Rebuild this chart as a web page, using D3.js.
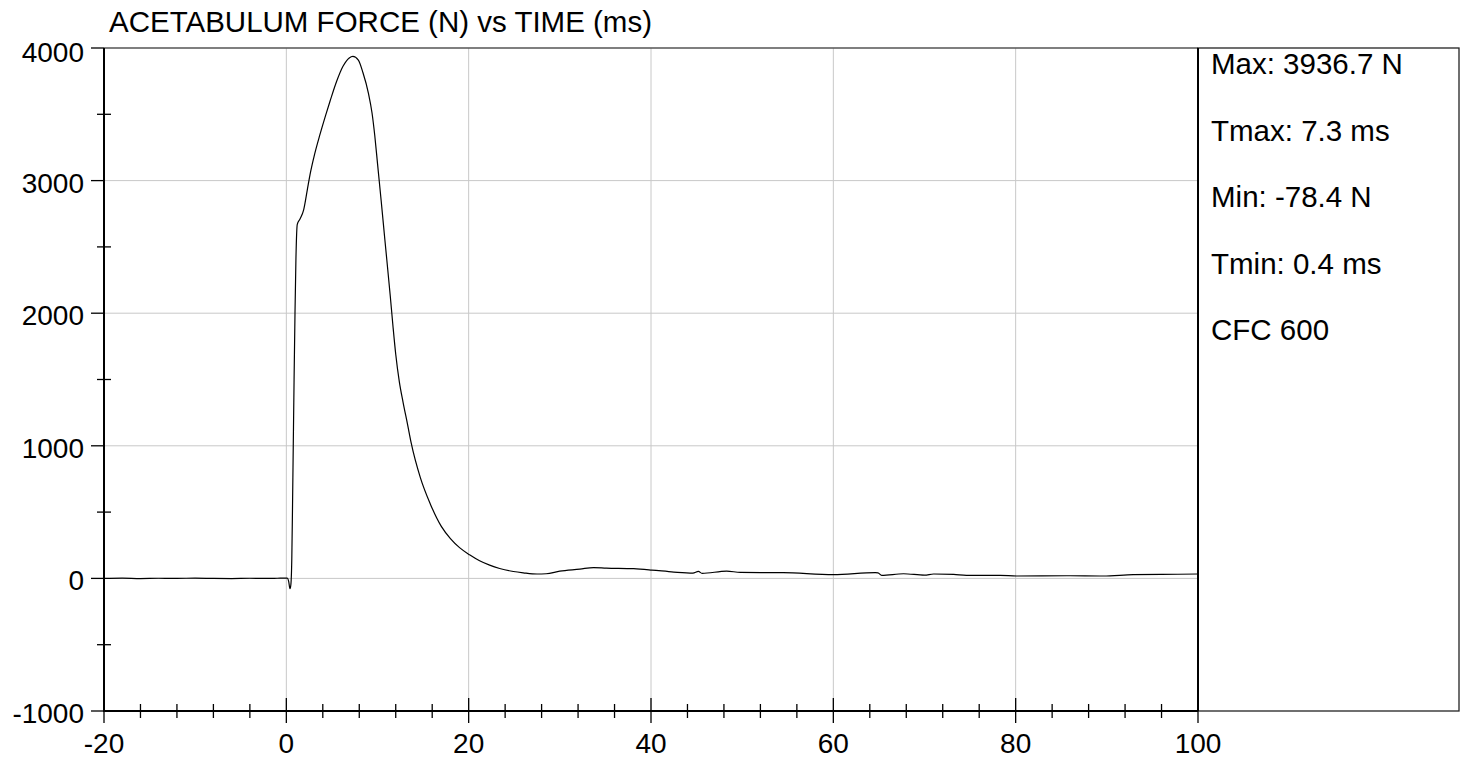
<!DOCTYPE html>
<html>
<head>
<meta charset="utf-8">
<script src="https://cdn.jsdelivr.net/npm/d3@7"></script>
<style>
  html, body { margin: 0; padding: 0; background: #fff; }
  svg { display: block; }
  text { font-family: "Liberation Sans", Arial, sans-serif; fill: #000; }
</style>
</head>
<body>
<svg id="chart" width="1465" height="761"></svg>
<script>
const title = "ACETABULUM FORCE (N) vs TIME (ms)";
const timeMs = [-20,-18,-16,-14,-12,-10,-8,-6,-4,-2,-1,0,0.1,0.25,0.4,0.5,0.6,0.68,0.76,0.85,0.95,1.05,1.2,1.5,1.9,2.3,2.6,3.0,3.7,4.3,4.8,5.5,6.2,6.9,7.3,7.9,8.4,9.0,9.4,9.7,10.0,10.4,10.8,11.4,11.7,12.0,12.4,12.8,13.3,13.7,14.7,15.8,17.0,18.0,19.0,20.1,21.2,22.3,23.4,24.9,26.0,27.5,28.5,30,32.2,33.7,35.1,38.1,40.1,42.5,44.6,45.2,45.6,48.3,49.8,54.5,60,64.6,64.9,65.3,67.7,70.0,71.0,73.2,74.6,78.3,80.1,85.6,89.6,92.9,96,100];
const forceN = [0,2,-1,1,0,2,0,-1,1,0,1,2,2,-20,-78,-45,150,550,1000,1500,2000,2400,2670,2710,2780,2930,3045,3170,3350,3490,3600,3745,3860,3925,3937,3909,3815,3660,3510,3340,3130,2850,2560,2130,1900,1690,1480,1330,1160,1020,760,560,392,300,232,178,133,100,75,52,42,33,35,55,70,82,78,73,63,48,40,53,38,55,45,43,28,43,42,23,35,25,33,30,23,23,18,20,18,28,30,33];
const xTicks = [-20,0,20,40,60,80,100];
const yTicks = [-1000,0,1000,2000,3000,4000];
const stats = ["Max: 3936.7 N","Tmax: 7.3 ms","Min: -78.4 N","Tmin: 0.4 ms","CFC 600"];

const svg = d3.select("#chart");
const L = 104, R = 1198, T = 48, B = 711;
const x = d3.scaleLinear().domain([-20,100]).range([L,R]);
const y = d3.scaleLinear().domain([-1000,4000]).range([B,T]);

// grid
svg.append("g").selectAll("line").data(xTicks.filter(d => d > -20 && d < 100)).join("line")
  .attr("x1", d => x(d)).attr("x2", d => x(d)).attr("y1", T).attr("y2", B)
  .attr("stroke", "#c8c8c8").attr("stroke-width", 1);
svg.append("g").selectAll("line").data(yTicks.filter(d => d > -1000 && d < 4000)).join("line")
  .attr("x1", L).attr("x2", R).attr("y1", d => y(d)).attr("y2", d => y(d))
  .attr("stroke", "#c8c8c8").attr("stroke-width", 1);

// top border of plot
svg.append("line").attr("x1", L).attr("x2", R).attr("y1", T).attr("y2", T)
  .attr("stroke", "#555").attr("stroke-width", 1.5);

// right stats box
svg.append("rect").attr("x", R).attr("y", T).attr("width", 1459 - R).attr("height", B - T)
  .attr("fill", "none").attr("stroke", "#222").attr("stroke-width", 1.3);

// data line
const line = d3.line().x((d, i) => x(timeMs[i])).y(d => y(d)).curve(d3.curveMonotoneX);
svg.append("path").datum(forceN).attr("d", line)
  .attr("fill", "none").attr("stroke", "#000").attr("stroke-width", 1.2);

// axes lines
svg.append("line").attr("x1", L).attr("x2", L).attr("y1", T).attr("y2", B + 1)
  .attr("stroke", "#000").attr("stroke-width", 2);
svg.append("line").attr("x1", L).attr("x2", R).attr("y1", B).attr("y2", B)
  .attr("stroke", "#000").attr("stroke-width", 2);
svg.append("line").attr("x1", R).attr("x2", R).attr("y1", T).attr("y2", B)
  .attr("stroke", "#000").attr("stroke-width", 2);

// x ticks
const xMinor = d3.range(-20, 100.01, 4).filter(d => (d % 20) !== 0);
svg.append("g").selectAll("line").data(xMinor).join("line")
  .attr("x1", d => x(d)).attr("x2", d => x(d)).attr("y1", B - 7).attr("y2", B + 7)
  .attr("stroke", "#000").attr("stroke-width", 1.3);
svg.append("g").selectAll("line").data(xTicks).join("line")
  .attr("x1", d => x(d)).attr("x2", d => x(d)).attr("y1", B - 13).attr("y2", B + 12)
  .attr("stroke", "#000").attr("stroke-width", 1.3);
svg.append("g").selectAll("text").data(xTicks).join("text")
  .attr("x", d => x(d)).attr("y", 753).attr("text-anchor", "middle")
  .attr("font-size", 28).text(d => d);

// y ticks
const yMinor = d3.range(-500, 4000, 1000);
svg.append("g").selectAll("line").data(yMinor).join("line")
  .attr("x1", L - 7).attr("x2", L + 7).attr("y1", d => y(d)).attr("y2", d => y(d))
  .attr("stroke", "#000").attr("stroke-width", 1.3);
svg.append("g").selectAll("line").data(yTicks).join("line")
  .attr("x1", L - 13).attr("x2", L).attr("y1", d => y(d)).attr("y2", d => y(d))
  .attr("stroke", "#000").attr("stroke-width", 1.3);
svg.append("g").selectAll("text").data(yTicks).join("text")
  .attr("x", 84).attr("y", d => Math.max(y(d) + 12, 62)).attr("text-anchor", "end")
  .attr("font-size", 28).text(d => d);

// title
svg.append("text").attr("x", 109).attr("y", 32).attr("font-size", 29.5).text(title);

// stats
svg.append("g").selectAll("text").data(stats).join("text")
  .attr("x", 1211).attr("y", (d, i) => 74 + i * 66.5)
  .attr("font-size", 29.5).text(d => d);
</script>
</body>
</html>
